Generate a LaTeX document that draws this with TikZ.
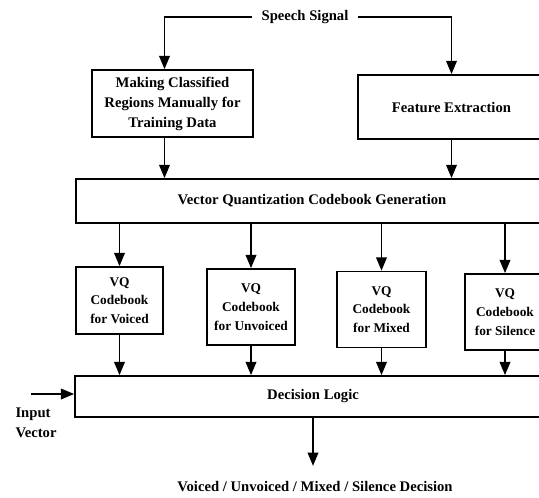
\documentclass[tikz,border=0pt]{standalone}
\usepackage{fontspec}
\setmainfont{Liberation Serif}
\usetikzlibrary{arrows.meta}

\begin{document}
\begin{tikzpicture}[
  x=0.75pt, y=-0.75pt,
  font=\bfseries\fontsize{11}{15}\selectfont,
  blk/.style={rectangle, draw=black, line width=1.3pt, inner sep=2pt,
              fill=white, align=center},
  vqb/.style={blk, font=\bfseries\fontsize{10}{14}\selectfont},
  lbl/.style={inner sep=1pt, align=left},
  arr/.style={-{Triangle[length=10pt,width=8pt]}, line width=1.3pt}
]
\useasboundingbox (0,0) rectangle (539,497);
\clip (0,0) rectangle (539,497);

\node[lbl, inner xsep=7pt] (sp) at (305,17) {Speech Signal};
\node[blk, minimum width=120.75pt, minimum height=50.25pt] (mk) at (172.5,103.5)
  {Making Classified\\Regions Manually for\\Training Data};
\node[blk, minimum width=140pt, minimum height=48pt] (fe) at (451.5,107) {Feature Extraction};
\node[blk, minimum width=354pt, minimum height=33pt] (gen) at (312,201)
  {Vector Quantization Codebook Generation};

\node[vqb, minimum width=65.25pt, minimum height=50.25pt] (v1) at (119.5,300.5) {VQ\\Codebook\\for Voiced};
\node[vqb, minimum width=66pt, minimum height=57pt]      (v2) at (251,307)     {VQ\\Codebook\\for Unvoiced};
\node[vqb, minimum width=66.75pt, minimum height=57pt]   (v3) at (381.5,309.5) {VQ\\Codebook\\for Mixed};
\node[vqb, minimum width=60pt, minimum height=57pt]      (v4) at (505,312)     {VQ\\Codebook\\for Silence};

\node[blk, minimum width=357pt, minimum height=30.75pt] (dec) at (313,396.5) {Decision Logic};
\node[lbl] (inp) at (36,423) {Input\\Vector};
\coordinate (inpt) at (31,394);
\node[lbl, inner sep=0pt] (res) at (315,487) {Voiced / Unvoiced / Mixed / Silence Decision};

\draw[arr] (sp.west) -| ([xshift=-6pt]mk.north);
\draw[arr] (sp.east) -| (fe.north);
\draw[arr] ([xshift=-6pt]mk.south) -- ([xshift=-6pt]mk.south |- gen.north);
\draw[arr] (fe.south) -- (fe.south |- gen.north);
\foreach \v in {v1,v2,v3,v4}{
  \draw[arr] (\v.north |- gen.south) -- (\v.north);
  \draw[arr] (\v.south) -- (\v.south |- dec.north);
}
\draw[arr] (inpt) -- (inpt -| dec.west);
\draw[arr] (dec.south) -- ++(0,48);
\end{tikzpicture}
\end{document}
